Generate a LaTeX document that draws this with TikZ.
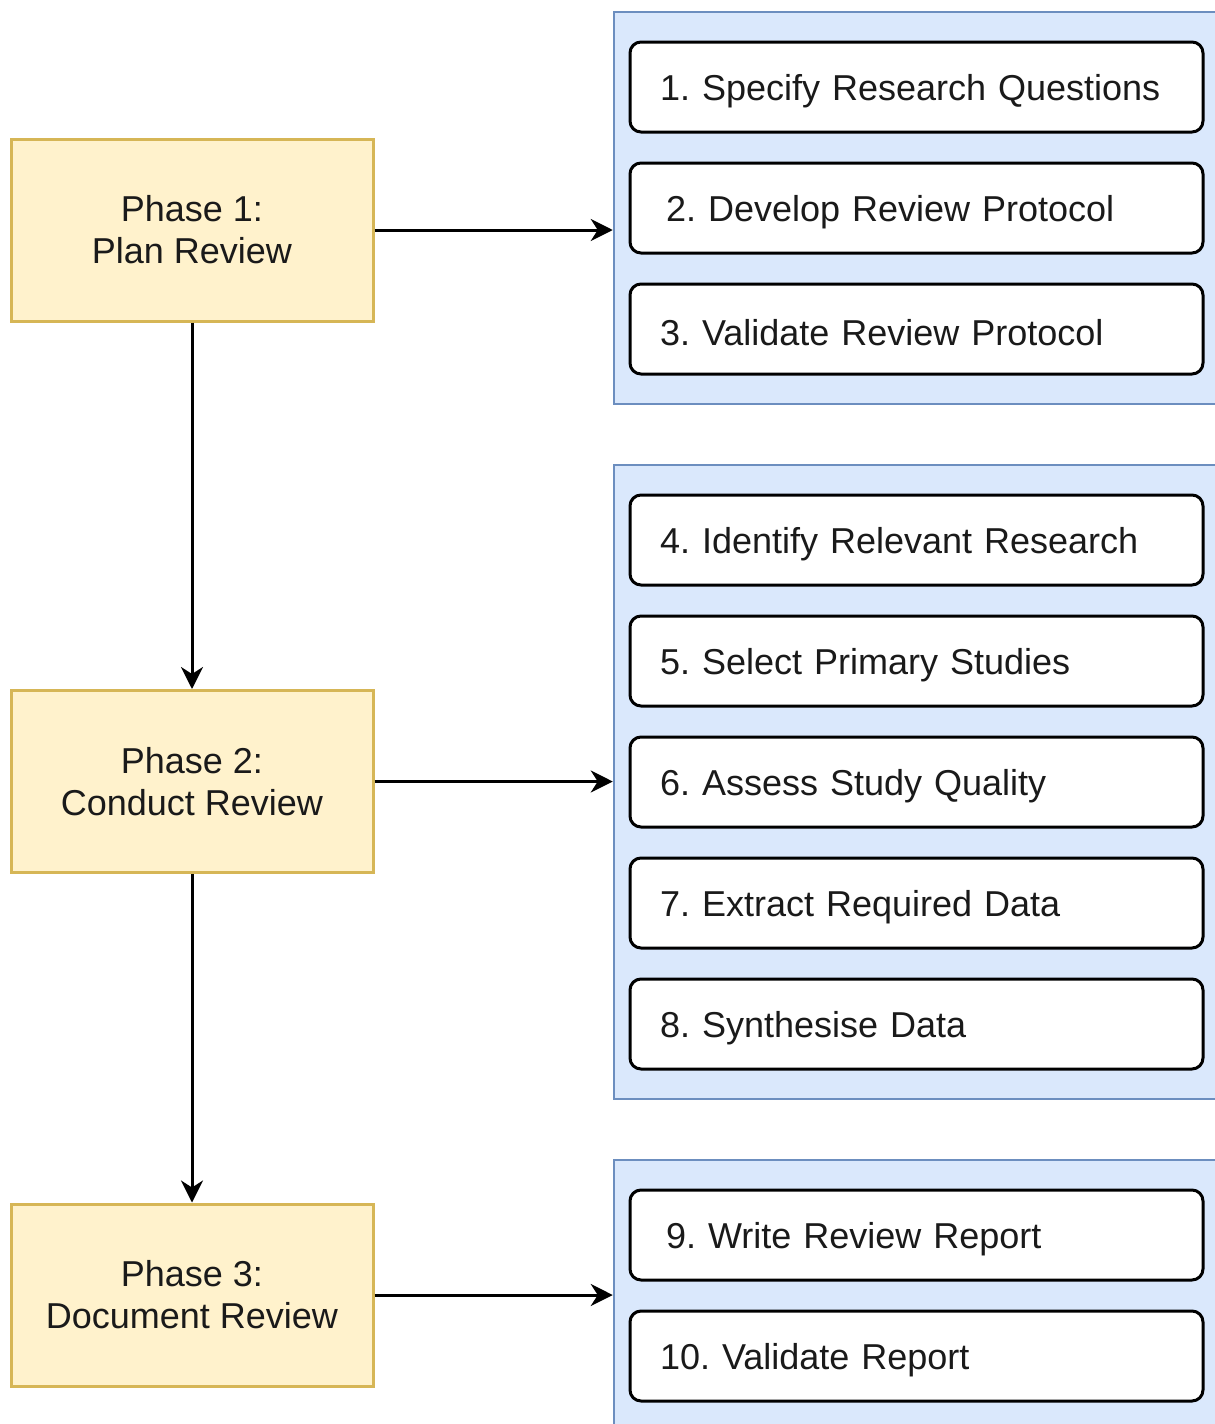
\documentclass[tikz,border=0pt]{standalone}
\usepackage{fontspec}
\setmainfont{Liberation Sans}
\usetikzlibrary{arrows.meta,positioning}
\frenchspacing
\definecolor{phasefill}{HTML}{FFF2CC}
\definecolor{phaseline}{HTML}{D6B656}
\definecolor{groupfill}{HTML}{DAE8FC}
\definecolor{groupline}{HTML}{6C8EBF}
\definecolor{txt}{HTML}{1A1A1A}
% lower the step text a little while keeping its box centred
\newcommand{\steplabel}[1]{\raisebox{-4pt}[\height][\depth]{#1}}
\tikzset{
  phasebox/.style={draw=phaseline, fill=phasefill, line width=3pt,
    minimum width=362pt, minimum height=182pt, inner sep=0pt,
    align=center, text=txt, font=\fontsize{36}{42}\selectfont},
  groupbox/.style={draw=groupline, fill=groupfill, line width=2.5pt,
    minimum width=620pt, inner sep=0pt},
  itembox/.style={draw=black, fill=white, line width=3pt, rounded corners=11pt,
    minimum height=90pt, text width=513pt, inner xsep=30pt, inner ysep=0pt,
    align=left, text=txt, font=\fontsize{36}{42}\selectfont},
  flow/.style={line width=3pt, -{Stealth[length=22pt,width=22pt,inset=7pt]}}
}
\begin{document}
\begin{tikzpicture}[x=1pt,y=-1pt]
  \useasboundingbox (0,0) rectangle (1215,1424);
  \clip (0,0) rectangle (1215,1424);

  % phase blocks
  \node[phasebox] (p1) at (192,230) {Phase 1:\\Plan Review};
  \node[phasebox] (p2) at (192,781.5) {Phase 2:\\Conduct Review};
  \node[phasebox] (p3) at (192,1295) {Phase 3:\\Document Review};

  % activity groups
  \node[groupbox, minimum height=392pt] (g1) at (924,208) {};
  \node[groupbox, minimum height=634pt] (g2) at (924,782) {};
  \node[groupbox, minimum height=290pt] (g3) at (924,1305) {};

  % activities
  \node[itembox] (s1) at (916.5,87) {\steplabel{1. Specify Research Questions}};
  \node[itembox] (s2) at (916.5,208) {\steplabel{\hspace*{6pt}2. Develop Review Protocol}};
  \node[itembox] (s3) at (916.5,329) {\steplabel{3. Validate Review Protocol}};

  \node[itembox] (s4) at (916.5,540) {\steplabel{4. Identify Relevant Research}};
  \node[itembox] (s5) at (916.5,661) {\steplabel{5. Select Primary Studies}};
  \node[itembox] (s6) at (916.5,782) {\steplabel{6. Assess Study Quality}};
  \node[itembox] (s7) at (916.5,903) {\steplabel{7. Extract Required Data}};
  \node[itembox] (s8) at (916.5,1024) {\steplabel{8. Synthesise Data}};

  \node[itembox] (s9) at (916.5,1235) {\steplabel{\hspace*{6pt}9. Write Review Report}};
  \node[itembox] (s10) at (916.5,1356) {\steplabel{10. Validate Report}};

  % connectors
  \draw[flow] (p1.east) -- (p1.east -| g1.west);
  \draw[flow] (p2.east) -- (p2.east -| g2.west);
  \draw[flow] (p3.east) -- (p3.east -| g3.west);
  \draw[flow] (p1.south) -- (p2.north);
  \draw[flow] (p2.south) -- (p3.north);
\end{tikzpicture}
\end{document}
